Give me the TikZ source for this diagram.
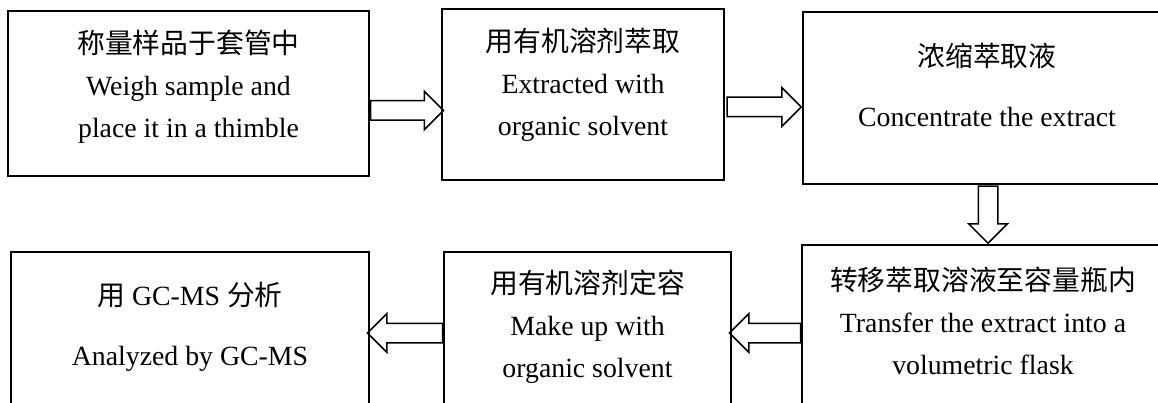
\documentclass[tikz,border=0pt]{standalone}
\usepackage{fontspec}
\setmainfont{Liberation Serif}
\newfontfamily\cjk{Noto Sans CJK SC}
\usetikzlibrary{positioning, calc, shapes.arrows}
\tikzset{
  stepbox/.style={draw, line width=1.5pt, inner sep=0pt},
  steptext/.style={align=center, inner sep=0pt, font=\fontsize{27.8}{42}\selectfont},
  hollowarrow/.style={single arrow, draw, line width=1.5pt, inner sep=0pt,
    text width=18pt, text height=9pt, text depth=9pt,
    single arrow head extend=9.5pt},
}

\begin{document}
\begin{tikzpicture}[x=1pt, y=-1pt]
      \useasboundingbox (0,0) rectangle (1158,403);
      \clip (0,0) rectangle (1158,403);

      % top row
      \node[stepbox, minimum width=361pt, minimum height=165pt] (weigh) at (188.5,93.5) {};
      \node[stepbox, minimum width=282pt, minimum height=171pt] (extract) at (583,94.5) {};
      \node[stepbox, minimum width=368pt, minimum height=172pt] (conc) at (987,98) {};

      % bottom row
      \node[stepbox, minimum width=358pt, minimum height=163pt] (gcms) at (190,333.5) {};
      \node[stepbox, minimum width=287pt, minimum height=163pt] (makeup) at (587.5,333.5) {};
      \node[stepbox, minimum width=362pt, minimum height=170pt] (transfer) at (983,330) {};

      \node[steptext] (weighT) at (188.5,86.5) {{\cjk 称量样品于套管中}\\Weigh sample and\\place it in a thimble};
      \node[steptext] (extractT) at (583,85) {{\cjk 用有机溶剂萃取}\\Extracted with\\organic solvent};
      \node[steptext] (concT) at (987,85) {{\cjk 浓缩萃取液}\\[18pt]Concentrate the extract};
      \node[steptext] (gcmsT) at (190,327) {{\cjk 用} GC-MS {\cjk 分析}\\[18pt]Analyzed by GC-MS};
      \node[steptext] (makeupT) at (587.5,327) {{\cjk 用有机溶剂定容}\\Make up with\\organic solvent};
      \node[steptext] (transferT) at (983,321) {{\cjk 转移萃取溶液至容量瓶内}\\Transfer the extract into a\\volumetric flask};

      % hollow arrows
      \node[hollowarrow, minimum height=73pt, anchor=tail] (a1) at (weigh.east |- 0,110.5) {};
      \node[hollowarrow, minimum height=74pt, anchor=tip] (a2) at (conc.west |- 0,107) {};
      \node[hollowarrow, minimum height=57pt, shape border rotate=270, anchor=tip] (a3) at (988,0 |- transfer.north) {};
      \node[hollowarrow, minimum height=71pt, shape border rotate=180, anchor=tail] (a4) at (transfer.west |- 0,333) {};
      \node[hollowarrow, minimum height=75pt, shape border rotate=180, anchor=tail] (a5) at (makeup.west |- 0,333) {};
    \end{tikzpicture}
\end{document}
